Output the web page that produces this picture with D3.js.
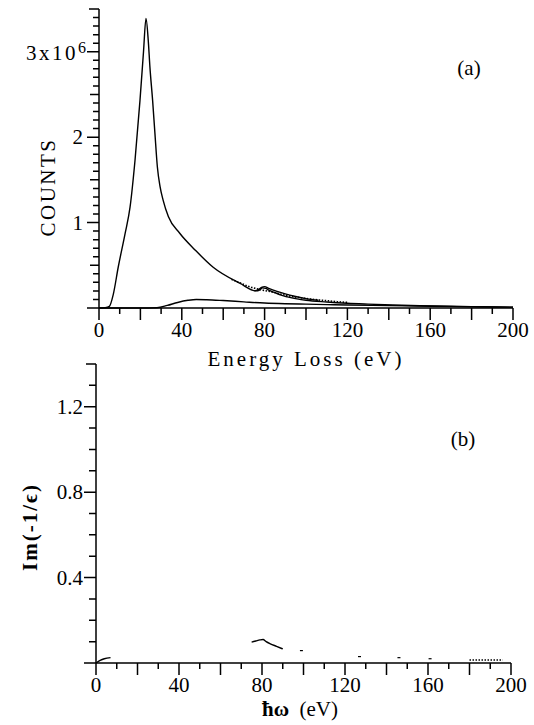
<!DOCTYPE html>
<html>
<head>
<meta charset="utf-8">
<script src="https://cdn.jsdelivr.net/npm/d3@7"></script>
<style>
  body { margin: 0; background: #fff; }
  svg { display: block; }
</style>
</head>
<body>
<svg id="chart" width="534" height="725"></svg>
<script>
// panel (a): measured loss spectrum, counts in units of 1e6
var lossEnergy = [0, 3, 5, 6.9, 9.3, 12.6, 15, 17.4, 19.8, 21.5, 22.7, 23.8, 24.6, 25.9, 27, 28.2, 29.5,
  31, 33.5, 39, 46.4, 55, 68, 76, 77.5, 79, 80.5, 82, 85, 88, 91, 95, 100,
  110, 120, 130, 142, 155, 170, 185, 200];
var lossCounts = [0, 0.005, 0.02, 0.16, 0.48, 0.87, 1.18, 1.73, 2.43, 3.0, 3.39, 3.13, 2.82, 2.43, 2.05, 1.65, 1.42,
  1.26, 1.07, 0.875, 0.68, 0.48, 0.29, 0.2, 0.21, 0.235, 0.23, 0.21, 0.18, 0.15, 0.13, 0.11, 0.09,
  0.07, 0.055, 0.045, 0.035, 0.027, 0.02, 0.015, 0.01];

// second trace near the 80 eV feature
var edgeEnergy = [75, 77, 78.5, 80, 82, 86, 90, 95, 100, 106];
var edgeCounts = [0.2, 0.215, 0.24, 0.25, 0.23, 0.195, 0.165, 0.135, 0.11, 0.09];

// dotted fit through the tail
var fitEnergy = [64, 68, 72, 78, 84, 90, 96, 102, 108, 115, 120];
var fitCounts = [0.335, 0.295, 0.255, 0.215, 0.185, 0.15, 0.125, 0.105, 0.09, 0.075, 0.065];

// lower hump (multiple scattering part)
var bgEnergy = [0, 20, 28, 33, 38, 43, 47, 52, 60, 70, 80, 90, 100, 110, 120, 140, 160, 180, 200];
var bgCounts = [0, 0, 0.003, 0.03, 0.065, 0.09, 0.1, 0.097, 0.087, 0.072, 0.058, 0.05, 0.045, 0.04, 0.035, 0.028, 0.02, 0.015, 0.01];

var countsTicks = [1, 2, 3];
var energyTicks = [0, 40, 80, 120, 160, 200];

// panel (b): Im(-1/eps), null = gap in the trace
var imEnergy = [0, 2, 4, 7, null, 75, 77, 79, 80.5, 82, 84, 87, 90];
var imValues = [0, 0.012, 0.02, 0.025, null, 0.098, 0.103, 0.108, 0.11, 0.1, 0.09, 0.078, 0.066];
var speckEnergy = [99, 127, 146, 161];
var speckValues = [0.058, 0.03, 0.025, 0.02];
var tailEnergy = [180, 196];
var tailValues = [0.014, 0.014];
var imTicks = [0.4, 0.8, 1.2];

var SERIF = 'Liberation Serif';
var svg = d3.select('#chart');

var xA = d3.scaleLinear().domain([0, 200]).range([99, 513]),
  yA = d3.scaleLinear().domain([0, 3.5]).range([308, 9]),
  xB = d3.scaleLinear().domain([0, 200]).range([96, 511]),
  yB = d3.scaleLinear().domain([0, 1.4]).range([663, 364]);

var zip = function(xs, ys) { return xs.map(function(x, i) { return [x, ys[i]]; }); };

var line = function(x, y) {
  return d3.line().curve(d3.curveMonotoneX)
    .defined(function(d) { return d[0] != null && d[1] != null; })
    .x(function(d) { return x(d[0]); })
    .y(function(d) { return y(d[1]); });
};

var curve = function(x, y, xs, ys, dotted) {
  svg.append('path')
    .attr('fill', 'none')
    .attr('stroke', '#000')
    .attr('stroke-width', dotted ? 1.6 : 1.4)
    .attr('stroke-dasharray', dotted ? '1.5,1.5' : null)
    .attr('d', line(x, y)(zip(xs, ys)));
};

var label = function(txt, x, y, anchor) {
  return svg.append('text')
    .attr('x', x).attr('y', y)
    .attr('text-anchor', anchor || 'middle')
    .attr('fill', '#000')
    .style('font-family', SERIF)
    .style('font-size', '21px')
    .text(txt);
};

// tick marks as one path per axis, drawn from the scales
var drawAxes = function(x, y, yTicks) {
  var x0 = x(0), y0 = y(0), yTop = y.domain()[1];
  var p = d3.path();

  // x axis line, long ticks every 20, short every 10
  p.moveTo(x0, y0); p.lineTo(x(200), y0);
  d3.range(0, 201, 10).forEach(function(d) {
    p.moveTo(x(d), y0); p.lineTo(x(d), y0 + (d % 20 === 0 ? 12 : 6));
  });

  // y axis line with caps at zero and at the top
  p.moveTo(x0, y0); p.lineTo(x0, y(yTop));
  yTicks.concat([{ v: 0, len: 12 }, { v: yTop, len: 10 }]).forEach(function(d) {
    p.moveTo(x0, y(d.v)); p.lineTo(x0 - d.len, y(d.v));
  });

  svg.append('path')
    .attr('fill', 'none')
    .attr('stroke', '#000')
    .attr('stroke-width', 1.5)
    .attr('d', p.toString());
};

//---- panel (a)
curve(xA, yA, lossEnergy, lossCounts);
curve(xA, yA, edgeEnergy, edgeCounts);
curve(xA, yA, fitEnergy, fitCounts, true);
curve(xA, yA, bgEnergy, bgCounts);

energyTicks.forEach(function(d) { label(d, xA(d), 337); });

countsTicks.forEach(function(d) {
  if (d === 3) {
    var t = label('', 26, yA(d) + 8, 'start');
    t.append('tspan').style('letter-spacing', '2.5px').text('3x10');
    t.append('tspan').attr('dy', -7).style('font-size', '16px').text('6');
  } else {
    label(d, 83, yA(d) + 7, 'end');
  }
});

label('Energy Loss (eV)', 306, 366).style('letter-spacing', '3px');

label('COUNTS', 0, 0)
  .attr('transform', 'translate(55,187) rotate(-90)')
  .style('letter-spacing', '2.5px');

label('(a)', 469, 75);

//---- panel (b)
curve(xB, yB, imEnergy, imValues);
curve(xB, yB, tailEnergy, tailValues, true);

svg.append('g').selectAll('line').data(zip(speckEnergy, speckValues)).join('line')
  .attr('x1', function(d) { return xB(d[0]) - 1.5; })
  .attr('x2', function(d) { return xB(d[0]) + 1.5; })
  .attr('y1', function(d) { return yB(d[1]); })
  .attr('y2', function(d) { return yB(d[1]); })
  .attr('stroke', '#000').attr('stroke-width', 1.2);

energyTicks.forEach(function(d) { label(d, xB(d), 692); });
imTicks.forEach(function(d) { label(d.toFixed(1), 83, yB(d) + 7, 'end'); });

label('Im(-1/\u03f5)', 0, 0)
  .attr('transform', 'translate(37,527) rotate(-90)')
  .style('letter-spacing', '2px')
  .style('font-weight', 'bold');

var hw = label('', 300, 716);
hw.append('tspan').style('font-weight', 'bold').text('\u0127\u03c9');
hw.append('tspan').text('\u2002(eV)');

label('(b)', 463, 446);

// axes last, on top of everything
var ticksA = d3.range(1, 35).map(function(i) {
  return { v: i / 10, len: i % 10 === 0 ? 12 : (i % 5 === 0 ? 9 : 6) };
});
drawAxes(xA, yA, ticksA);

var ticksB = d3.range(1, 14).map(function(i) {
  return { v: i / 10, len: i % 4 === 0 ? 12 : 7 };
});
drawAxes(xB, yB, ticksB);
</script>
</body>
</html>
